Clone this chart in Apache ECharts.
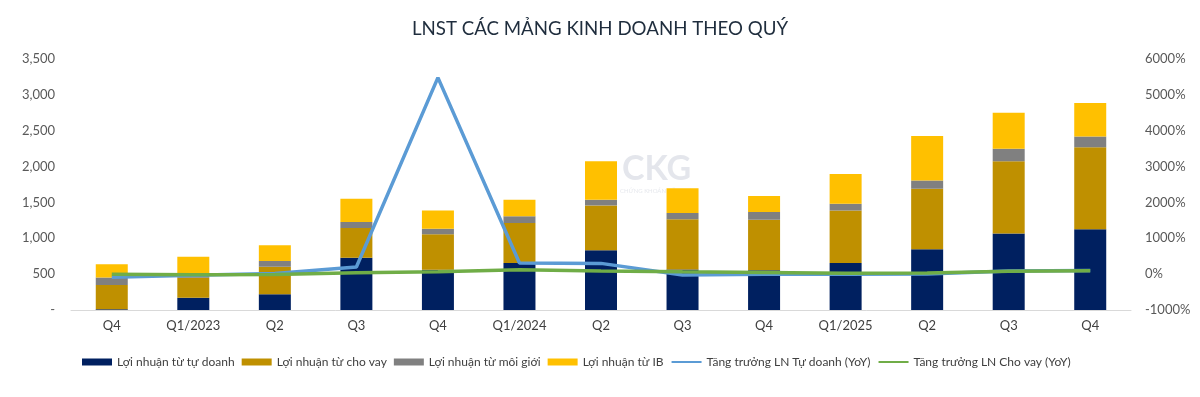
<!DOCTYPE html>
<html>
<head>
<meta charset="utf-8">
<script src="https://cdn.jsdelivr.net/npm/echarts@6/dist/echarts.min.js"></script>
<style>html,body{margin:0;padding:0;background:#fff;}#c{width:1200px;height:397px;}</style>
</head>
<body>
<div id="c"></div>
<script>
const categories = ['Q4','Q1/2023','Q2','Q3','Q4','Q1/2024','Q2','Q3','Q4','Q1/2025','Q2','Q3','Q4'];
const tuDoanh = [10, 171, 218, 727, 560, 657, 833, 565, 556, 657, 847, 1065, 1125];
const choVay  = [340, 280, 384, 417, 495, 556, 625, 699, 703, 732, 843, 1009, 1143];
const moiGioi = [104, 30, 83, 83, 79, 93, 79, 88, 107, 92, 116, 176, 153];
const ib      = [185, 260, 218, 324, 255, 231, 537, 347, 222, 417, 620, 500, 464];
const yoyTuDoanh = [-90, -30, 20, 200, 5480, 310, 300, -25, -5, 0, 5, 88, 100];
const yoyChoVay  = [0, -20, -10, 36, 64, 125, 90, 64, 47, 25, 35, 80, 95];
const leftTicks = [0, 3500, 500];
const rightTicks = [-1000, 6000, 1000];

const chart = echarts.init(document.getElementById('c'));
const font = "Lato, 'Open Sans', sans-serif";
chart.setOption({
  animation: false,
  backgroundColor: '#fff',
  textStyle: { fontFamily: font },
  title: {
    text: 'LNST CÁC MẢNG KINH DOANH THEO QUÝ',
    left: 'center', top: 14,
    textStyle: { fontFamily: font, fontSize: 18.7, fontWeight: 'normal', color: '#1f2d3d' }
  },
  graphic: [
    { type: 'text', left: 622, top: 152, z: 0, style: { text: 'CKG', font: 'bold 34px ' + font, fill: 'rgba(210,214,224,0.6)' } },
    { type: 'text', left: 620, top: 188, z: 0, style: { text: 'CHỨNG KHOÁN ĐẦU TƯ', font: '6px ' + font, fill: 'rgba(205,210,220,0.5)' } }
  ],
  legend: {
    bottom: 24, left: 77,
    itemWidth: 30, itemHeight: 7, itemGap: 7,
    textStyle: { fontFamily: font, fontSize: 12, color: '#404040' },
    data: [
      { name: 'Lợi nhuận từ tự doanh', icon: 'rect' },
      { name: 'Lợi nhuận từ cho vay', icon: 'rect' },
      { name: 'Lợi nhuận từ môi giới', icon: 'rect' },
      { name: 'Lợi nhuận từ IB', icon: 'rect' },
      { name: 'Tăng trưởng LN Tự doanh (YoY)', itemStyle: { opacity: 0 } },
      { name: 'Tăng trưởng LN Cho vay (YoY)', itemStyle: { opacity: 0 } }
    ]
  },
  grid: { left: 71, right: 69, top: 59, bottom: 87 },
  xAxis: {
    type: 'category', data: categories,
    axisLine: { lineStyle: { color: '#d9d9d9' } },
    axisTick: { show: false },
    axisLabel: { fontFamily: font, fontSize: 13, color: '#404040', margin: 9 }
  },
  yAxis: [
    {
      type: 'value', min: leftTicks[0], max: leftTicks[1], interval: leftTicks[2],
      splitLine: { show: false }, axisLine: { show: false }, axisTick: { show: false },
      axisLabel: { fontFamily: font, fontSize: 13, color: '#595959', margin: 16,
        formatter: v => v === 0 ? '-' : v.toLocaleString('en-US') }
    },
    {
      type: 'value', min: rightTicks[0], max: rightTicks[1], interval: rightTicks[2],
      splitLine: { show: false }, axisLine: { show: false }, axisTick: { show: false },
      axisLabel: { fontFamily: font, fontSize: 13, color: '#595959', margin: 14,
        formatter: v => v + '%' }
    }
  ],
  series: [
    { name: 'Lợi nhuận từ tự doanh', type: 'bar', stack: 's', barWidth: 32, data: tuDoanh, itemStyle: { color: '#002060' } },
    { name: 'Lợi nhuận từ cho vay', type: 'bar', stack: 's', data: choVay, itemStyle: { color: '#BF9000' } },
    { name: 'Lợi nhuận từ môi giới', type: 'bar', stack: 's', data: moiGioi, itemStyle: { color: '#808080' } },
    { name: 'Lợi nhuận từ IB', type: 'bar', stack: 's', data: ib, itemStyle: { color: '#FFC000' } },
    { name: 'Tăng trưởng LN Tự doanh (YoY)', type: 'line', yAxisIndex: 1, data: yoyTuDoanh, symbol: 'none', lineStyle: { color: '#5B9BD5', width: 3.5 }, itemStyle: { color: '#5B9BD5' }, z: 5 },
    { name: 'Tăng trưởng LN Cho vay (YoY)', type: 'line', yAxisIndex: 1, data: yoyChoVay, symbol: 'none', lineStyle: { color: '#70AD47', width: 3.5 }, itemStyle: { color: '#70AD47' }, z: 6 }
  ]
});
</script>
</body>
</html>
